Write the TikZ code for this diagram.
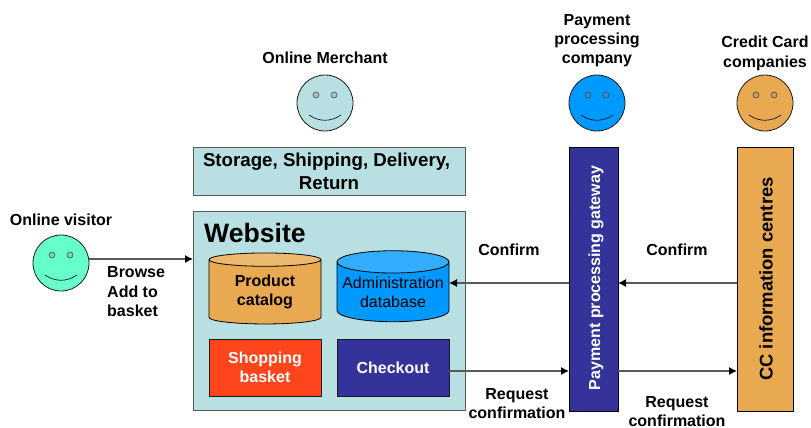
\documentclass[tikz,border=0pt]{standalone}
\usepackage{fontspec}
\setmainfont{Liberation Sans}
\usetikzlibrary{shapes.geometric,shapes.misc,arrows.meta}
\definecolor{paleteal}{HTML}{B8DFE2}
\definecolor{tanbody}{HTML}{E8A951}
\definecolor{tanlight}{HTML}{EDB96E}
\definecolor{skyb}{HTML}{0099FF}
\definecolor{skylight}{HTML}{33ADFF}
\definecolor{mint}{HTML}{66FFCC}
\definecolor{redor}{HTML}{FF451C}
\definecolor{navy}{HTML}{333399}
\definecolor{edge}{HTML}{1A1A1A}
\newcommand{\fs}[1]{\fontsize{#1}{#1}\selectfont}
\tikzset{
  x=1pt,y=-1pt,
  face/.style={circle,draw=edge,line width=0.8pt,minimum size=56pt,inner sep=0pt,outer sep=0pt},
  boxed/.style={rectangle,draw=edge,line width=1pt,inner sep=0pt,outer sep=0pt,align=center},
  tealbox/.style={boxed,draw=black!65,fill=paleteal},
  cyl/.style={cylinder,shape border rotate=90,draw=black,line width=0.8pt,cylinder uses custom fill,
    minimum width=112pt,minimum height=71pt,aspect=0.22,inner sep=0pt,outer sep=0pt,align=center,font=\fs{16}},
  lab/.style={font=\fs{16}\bfseries,align=center,inner sep=0pt,text depth=0pt},
  conn/.style={draw=black!65,line width=1.1pt,-{Latex[black,length=8pt,width=8pt]}},
}
\newcommand{\happyface}[2]{%
  \fill[#2,draw=black!70,line width=0.6pt] ([shift={(-9,-8)}]#1.center) circle[radius=3];
  \fill[#2,draw=black!70,line width=0.6pt] ([shift={(9,-8)}]#1.center) circle[radius=3];
  \draw[black,line width=0.6pt] ([shift={(-16,12)}]#1.center) .. controls ([shift={(-6,19)}]#1.center) and ([shift={(6,19)}]#1.center) .. ([shift={(16,12)}]#1.center);
}
\begin{document}
\begin{tikzpicture}
\useasboundingbox (0,0) rectangle (811,428);
% faces
\node[face,fill=mint] (visitor) at (61,263) {};
\node[face,fill=paleteal] (merchant) at (325,103) {};
\node[face,fill=skyb] (payer) at (597,103) {};
\node[face,fill=tanbody] (ccface) at (765,103) {};
\happyface{visitor}{mint!70!gray}
\happyface{merchant}{paleteal!70!gray}
\happyface{payer}{skyb!70!gray}
\happyface{ccface}{tanbody!70!gray}
% actor labels
\node[lab] (tvisitor) at (61,219.5) {Online visitor};
\node[lab] (tmerchant) at (325,58) {Online Merchant};
\node[lab] (tpayer) at (597,39) {Payment\\[3pt]processing\\[3pt]company};
\node[lab] (tcc) at (765,52) {Credit Card\\[4pt]companies};
% boxes
\node[tealbox,minimum width=272pt,minimum height=48pt,font=\fs{18.7}\bfseries] (storage) at (329,171) {\raisebox{-1pt}{Storage, Shipping, Delivery,\hspace{5pt}}\\[4.5pt]\raisebox{-1pt}{Return}};
\node[tealbox,minimum width=272pt,minimum height=199pt] (web) at (329,310.5) {};
\node[inner sep=0pt,font=\fs{26.6}\bfseries,anchor=west] (tweb) at (204,233) {Website};
\node[cyl,cylinder body fill=tanbody,cylinder end fill=tanlight] (catalog) at (265,292) {\textbf{Product}\\[3pt]\textbf{catalog}};
\node[cyl,cylinder body fill=skyb,cylinder end fill=skylight] (admin) at (393,292) {Administration\\[3pt]database};
\node[boxed,fill=redor,text=white,minimum width=112pt,minimum height=57pt,font=\fs{16}\bfseries] (basket) at (265,367.5) {Shopping\\[3pt]basket};
\node[boxed,fill=navy,text=white,minimum width=112pt,minimum height=57pt,font=\fs{16}\bfseries] (checkout) at (393,367.5) {Checkout};
\node[boxed,draw=black,fill=navy,minimum width=49pt,minimum height=264pt] (gateway) at (593.5,279) {};
\node[rotate=90,text=white,font=\fs{16}\bfseries,inner sep=0pt] (tgate) at (596,278) {Payment processing gateway};
\node[boxed,draw=black,fill=tanbody,minimum width=56pt,minimum height=264pt] (ccbox) at (765,279) {};
\node[rotate=90,font=\fs{18.4}\bfseries,inner sep=0pt] (tcb) at (766,279) {CC information centres};
% connector anchors
\coordinate (vout) at ([yshift=4pt]visitor.east);
\coordinate (ay) at (0,283);
\coordinate (by) at (0,371);
\draw[conn] (vout) -- (vout -| web.west);
\draw[conn] (ay -| ccbox.west) -- (ay -| gateway.east);
\draw[conn] (ay -| gateway.west) -- (ay -| admin.east);
\draw[conn] (by -| checkout.east) -- (by -| gateway.west);
\draw[conn] (by -| gateway.east) -- (by -| ccbox.west);
% connector labels
\node[lab,align=left,anchor=north west] (tbrowse) at (107,266.5) {Browse\\[3.5pt]Add to\\[3.5pt]basket};
\node[lab] (tc1) at (509,249.5) {Confirm};
\node[lab] (tc2) at (677,249.5) {Confirm};
\node[lab] (tr1) at (517,403.5) {Request\\[3pt]confirmation};
\node[lab] (tr2) at (677,411.5) {Request\\[3pt]confirmation};
\end{tikzpicture}
\end{document}
